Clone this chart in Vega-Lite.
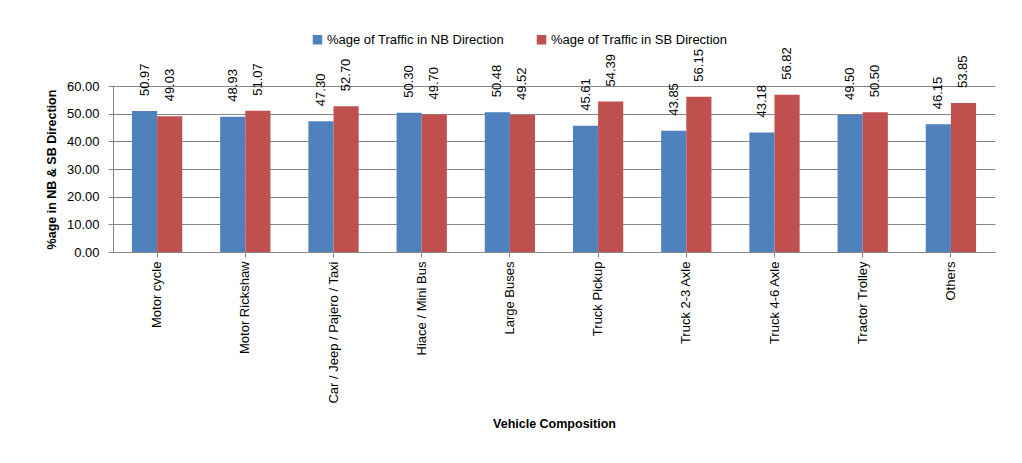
{
  "$schema": "https://vega.github.io/schema/vega-lite/v6.json",
  "width": 882,
  "height": 166,
  "autosize": {"type": "none"},
  "padding": {"left": 113, "top": 86, "right": 27, "bottom": 211},
  "background": "white",
  "config": {
    "view": {"stroke": null},
    "font": "Liberation Sans",
    "axis": {"labelFont": "Liberation Sans", "labelFontSize": 13, "labelColor": "#000", "titleFont": "Liberation Sans", "titleFontWeight": "bold", "titleFontSize": 12.5, "titleColor": "#000", "domainColor": "#868686", "tickColor": "#868686", "gridColor": "#868686", "tickSize": 5}
  },
  "data": {"values": [
    {"v": "Motor cycle", "d": "%age of Traffic in NB Direction", "p": 50.97},
    {"v": "Motor cycle", "d": "%age of Traffic in SB Direction", "p": 49.03},
    {"v": "Motor Rickshaw", "d": "%age of Traffic in NB Direction", "p": 48.93},
    {"v": "Motor Rickshaw", "d": "%age of Traffic in SB Direction", "p": 51.07},
    {"v": "Car / Jeep / Pajero / Taxi", "d": "%age of Traffic in NB Direction", "p": 47.30},
    {"v": "Car / Jeep / Pajero / Taxi", "d": "%age of Traffic in SB Direction", "p": 52.70},
    {"v": "Hiace / Mini Bus", "d": "%age of Traffic in NB Direction", "p": 50.30},
    {"v": "Hiace / Mini Bus", "d": "%age of Traffic in SB Direction", "p": 49.70},
    {"v": "Large Buses", "d": "%age of Traffic in NB Direction", "p": 50.48},
    {"v": "Large Buses", "d": "%age of Traffic in SB Direction", "p": 49.52},
    {"v": "Truck Pickup", "d": "%age of Traffic in NB Direction", "p": 45.61},
    {"v": "Truck Pickup", "d": "%age of Traffic in SB Direction", "p": 54.39},
    {"v": "Truck 2-3 Axle", "d": "%age of Traffic in NB Direction", "p": 43.85},
    {"v": "Truck 2-3 Axle", "d": "%age of Traffic in SB Direction", "p": 56.15},
    {"v": "Truck 4-6 Axle", "d": "%age of Traffic in NB Direction", "p": 43.18},
    {"v": "Truck 4-6 Axle", "d": "%age of Traffic in SB Direction", "p": 56.82},
    {"v": "Tractor Trolley", "d": "%age of Traffic in NB Direction", "p": 49.50},
    {"v": "Tractor Trolley", "d": "%age of Traffic in SB Direction", "p": 50.50},
    {"v": "Others", "d": "%age of Traffic in NB Direction", "p": 46.15},
    {"v": "Others", "d": "%age of Traffic in SB Direction", "p": 53.85}
  ]},
  "encoding": {
    "x": {"field": "v", "type": "nominal", "sort": null,
      "scale": {"paddingInner": 0.43, "paddingOuter": 0.215},
      "axis": {"title": "Vehicle Composition", "labelAngle": 270, "labelAlign": "right", "labelBaseline": "middle", "labelPadding": 4, "titlePadding": 14, "labelLimit": 300}},
    "y": {"field": "p", "type": "quantitative",
      "scale": {"domain": [0, 60], "nice": false},
      "axis": {"title": "%age in NB & SB Direction", "values": [0, 10, 20, 30, 40, 50, 60], "format": ".2f", "labelPadding": 9, "titlePadding": 8, "grid": true}},
    "xOffset": {"field": "d", "type": "nominal"}
  },
  "layer": [
    {
      "mark": {"type": "bar"},
      "encoding": {
        "color": {"field": "d", "type": "nominal",
          "scale": {"range": ["#4F81BD", "#C0504D"]},
          "legend": {"title": null, "orient": "none", "direction": "horizontal", "legendX": 198, "legendY": -53, "symbolType": "square", "symbolSize": 90, "symbolStrokeWidth": 0, "labelFontSize": 13, "labelFont": "Liberation Sans", "labelColor": "#000", "columnPadding": 30, "labelOffset": 3, "labelLimit": 300}}
      }
    },
    {
      "mark": {"type": "text", "angle": 270, "align": "left", "baseline": "middle", "dx": 15, "fontSize": 13, "font": "Liberation Sans", "color": "#000"},
      "encoding": {"text": {"field": "p", "type": "quantitative", "format": ".2f"}}
    }
  ]
}
